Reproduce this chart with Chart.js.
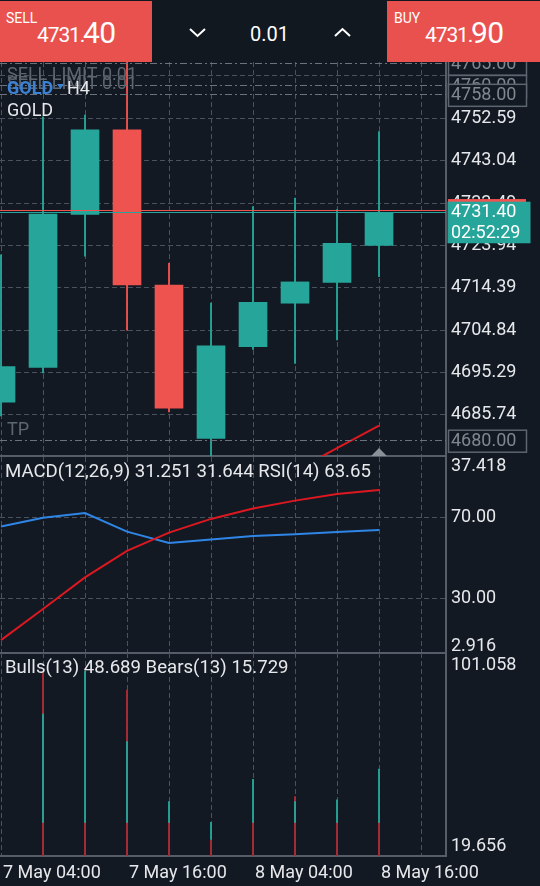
<!DOCTYPE html>
<html>
<head>
<meta charset="utf-8">
<script src="https://cdn.jsdelivr.net/npm/chart.js@4.4.1/dist/chart.umd.min.js"></script>
<style>
body{margin:0;background:#121922;width:540px;height:886px;overflow:hidden;position:relative;font-family:Roboto,sans-serif;color:#fff}
canvas{position:absolute;left:0}
#bar{position:absolute;left:0;top:0;width:540px;height:62px;background:#111820;z-index:5}
.box{position:absolute;top:1px;height:61px;background:#e9514e}
.t{position:absolute;line-height:1;white-space:nowrap;color:#fff}
</style>
</head>
<body>
<div id="bar">
  <div class="box" style="left:0;width:152px"></div>
  <div class="box" style="left:387px;width:153px"></div>
  <span class="t" style="left:6px;top:10.5px;font-size:14px">SELL</span>
  <span class="t" id="sellA" style="left:37px;top:25px;font-size:21px;letter-spacing:-1.1px"></span>
  <span class="t" id="sellB" style="left:83px;top:17.5px;font-size:30px;letter-spacing:-0.5px"></span>
  <span class="t" style="left:394px;top:10.5px;font-size:14px">BUY</span>
  <span class="t" id="buyA" style="left:425px;top:25px;font-size:21px;letter-spacing:-1.1px"></span>
  <span class="t" id="buyB" style="left:471px;top:17.5px;font-size:30px;letter-spacing:-0.5px"></span>
  <span class="t" id="lot" style="left:250px;top:24px;font-size:20px"></span>
  <svg style="position:absolute;left:0;top:0" width="540" height="62">
    <polyline points="190,29 197.5,36 205,29" fill="none" stroke="#fff" stroke-width="2"/>
    <polyline points="335,36 342.5,29 350,36" fill="none" stroke="#fff" stroke-width="2"/>
  </svg>
</div>
<canvas id="main" width="540" height="396" style="top:62px"></canvas>
<canvas id="osc" width="540" height="198" style="top:457px"></canvas>
<canvas id="bulls" width="540" height="233" style="top:653px"></canvas>
<script>
// 4h candles, GOLD
var times = ['7 May 04:00','7 May 08:00','7 May 12:00','7 May 16:00','7 May 20:00','8 May 00:00','8 May 04:00','8 May 08:00','8 May 12:00','8 May 16:00'];
var opens  = [4688.6, 4696.4, 4730.9, 4750.0, 4715.0, 4680.4, 4701.1, 4710.9, 4715.6, 4723.9];
var highs  = [4721.8, 4752.9, 4753.3, 4768.0, 4719.9, 4710.9, 4732.7, 4734.6, 4732.0, 4749.6];
var lows   = [4685.5, 4695.2, 4721.5, 4704.8, 4686.4, 4675.0, 4700.5, 4697.3, 4702.6, 4716.9];
var closes = [4696.6, 4731.0, 4750.0, 4715.0, 4687.2, 4701.3, 4711.1, 4715.7, 4724.4, 4731.4];
var maLine = [null, null, null, null, null, null, null, 4673.1, 4678.2, 4683.3];
var arrowMarks = [null, null, null, null, null, null, null, null, null, 4676.3];
var priceTicks = [4685.74, 4695.29, 4704.84, 4714.39, 4723.94, 4733.49, 4743.04, 4752.59, 4762.14];
var bid = 4731.40, ask = 4731.90, lot = 0.01, timer = '02:52:29';
var sellLimits = [4765.00, 4760.00, 4758.00];
var takeProfits = [4680.00];

var macdSignal = [5.19, 10.65, 16.23, 20.89, 24.11, 26.52, 28.35, 29.74, 30.89, 31.6];
var rsiValues = [65.4, 69.7, 72.0, 62.8, 57.2, 58.9, 60.6, 61.5, 62.6, 63.65];
var rsiLevels = [70, 30];
var macdRange = [2.916, 37.418];
var macdNow = 31.251, signalNow = 31.644;

var bullsTop = [null, 76.55, 93.74, 65.51, 41.45, 26.29, 50.36, 41.45, 42.17, 54.56];
var bullsBase = 33.17;
var bearsTop = [null, 92.86, 33.17, 86.15, 33.17, 26.29, 33.17, 43.48, 33.17, 33.17];
var bullsRange = [19.656, 101.058];
var bullsNow = 48.689, bearsNow = 15.729;

var TEAL = '#26a69a', RED = '#ef5350', BG = '#121922';
var GRID = '#4a525d', AXIS = '#555d69', TXT = '#e6e8eb';
var xMin = -0.024, xMax = 10.595;
var idx = times.map(function(t, i){ return i; });

function split(v){ var s = v.toFixed(2); return [s.slice(0, -2), s.slice(-2)]; }
document.getElementById('sellA').textContent = split(bid)[0];
document.getElementById('sellB').textContent = split(bid)[1];
document.getElementById('buyA').textContent = split(ask)[0];
document.getElementById('buyB').textContent = split(ask)[1];
document.getElementById('lot').textContent = lot.toFixed(2);

Chart.defaults.font.family = 'Roboto';
Chart.defaults.font.size = 18;
Chart.defaults.color = TXT;

function xAxis(h){
    return {
        type: 'linear', min: xMin, max: xMax, offset: false,
        afterBuildTicks: function(s){ s.ticks = idx.concat([10]).map(function(v){ return {value: v}; }); },
        ticks: {display: false},
        grid: {color: GRID, lineWidth: 1, drawTicks: false, offset: false},
        border: {display: true, color: AXIS, width: 2, dash: [5, 3]},
        afterFit: function(s){ s.height = h; s.paddingLeft = 0; s.paddingRight = 0; }
    };
}
function fitRight(s){ s.width = 94; s.paddingTop = 0; s.paddingBottom = 0; }
function baseOptions(){
    return {
        responsive: false, animation: false, devicePixelRatio: 1,
        layout: {padding: 0, autoPadding: false},
        plugins: {legend: {display: false}, tooltip: {enabled: false}}
    };
}
var candleColors = idx.map(function(i){ return closes[i] >= opens[i] ? TEAL : RED; });

// ---- main price panel
var mainDecor = {
    id: 'mainDecor',
    afterDatasetsDraw: function(chart){
        var ctx = chart.ctx, a = chart.chartArea, y = chart.scales.y;
        ctx.save();
        ctx.beginPath(); ctx.rect(a.left, a.top, a.right - a.left, a.bottom - a.top); ctx.clip();
        ctx.lineWidth = 1;
        ctx.strokeStyle = '#6b727c';
        ctx.setLineDash([7, 3, 2, 3]);
        sellLimits.concat(takeProfits).forEach(function(v){
            var py = Math.round(y.getPixelForValue(v)) + 0.5;
            ctx.beginPath(); ctx.moveTo(a.left, py); ctx.lineTo(a.right, py); ctx.stroke();
        });
        ctx.setLineDash([]);
        [[ask, RED], [bid, TEAL]].forEach(function(p){
            var py = Math.round(y.getPixelForValue(p[0])) + 0.5;
            ctx.strokeStyle = p[1];
            ctx.beginPath(); ctx.moveTo(a.left, py); ctx.lineTo(a.right, py); ctx.stroke();
        });
        ctx.restore();
    },
    afterDraw: function(chart){
        var ctx = chart.ctx, y = chart.scales.y;
        ctx.save();
        ctx.font = '18px Roboto';
        ctx.textBaseline = 'alphabetic';
        ctx.fillStyle = '#5e6670';
        sellLimits.forEach(function(v){ ctx.fillText('SELL LIMIT 0.01', 7, y.getPixelForValue(v) - 5.5); });
        takeProfits.forEach(function(v){ ctx.fillText('TP', 7, y.getPixelForValue(v) - 5.5); });
        // symbol
        ctx.font = 'bold 18px Roboto';
        ctx.fillStyle = '#3b82d6';
        ctx.fillText('GOLD', 7, 31.6);
        ctx.beginPath(); ctx.moveTo(57, 22); ctx.lineTo(64, 22); ctx.lineTo(60.5, 27); ctx.closePath(); ctx.fill();
        ctx.font = '18px Roboto';
        ctx.fillStyle = TXT;
        ctx.fillText('H4', 67, 31.6);
        ctx.fillText('GOLD', 7, 54.3);
        // order level boxes
        ctx.textBaseline = 'middle';
        sellLimits.concat(takeProfits).forEach(function(v){
            var py = y.getPixelForValue(v);
            ctx.fillStyle = BG;
            ctx.fillRect(448.5, py - 10, 78, 22);
            ctx.strokeStyle = '#5d6570'; ctx.lineWidth = 1.5;
            ctx.strokeRect(448.5, py - 10, 78, 22);
            ctx.fillStyle = '#80878f';
            ctx.fillText(v.toFixed(2), 451, py + 1.5);
        });
        // ask / bid labels
        var pa = y.getPixelForValue(ask), pb = y.getPixelForValue(bid);
        ctx.fillStyle = RED;
        ctx.fillRect(448, pa - 11, 78, 22);
        ctx.fillStyle = TXT;
        ctx.fillText(ask.toFixed(2), 451, pa + 1);
        ctx.fillStyle = TEAL;
        ctx.fillRect(447.5, pb - 10.6, 83, 41.6);
        ctx.fillStyle = '#ffffff';
        ctx.textBaseline = 'alphabetic';
        ctx.fillText(bid.toFixed(2), 451, pb + 4.5);
        ctx.fillText(timer, 451, pb + 26);
        ctx.restore();
    }
};

new Chart(document.getElementById('main'), {
    type: 'bar',
    data: {
        datasets: [
            {type: 'line', data: idx.map(function(i){ return {x: i, y: maLine[i]}; }),
             borderColor: '#dd1820', borderWidth: 2, pointRadius: 0, tension: 0, order: 0},
            {type: 'scatter', data: idx.map(function(i){ return {x: i, y: arrowMarks[i]}; }), clip: 0,
             pointStyle: 'rectRot', pointRadius: 8.5, backgroundColor: '#8a9199', borderWidth: 0, order: 0},
            {type: 'bar', grouped: false, barThickness: 28, order: 1,
             data: idx.map(function(i){ return {x: i, y: [opens[i], closes[i]]}; }),
             backgroundColor: candleColors, borderWidth: 0},
            {type: 'bar', grouped: false, barThickness: 1.2, order: 2,
             data: idx.map(function(i){ return {x: i, y: [lows[i], highs[i]]}; }),
             backgroundColor: candleColors, borderWidth: 0}
        ]
    },
    options: Object.assign(baseOptions(), {
        scales: {
            x: xAxis(2),
            y: {
                position: 'right', min: 4676.44, max: 4765.29,
                afterBuildTicks: function(s){ s.ticks = priceTicks.map(function(v){ return {value: v}; }); },
                ticks: {padding: 5, autoSkip: false, color: TXT, callback: function(v){ return Number(v).toFixed(2); }},
                grid: {color: GRID, drawTicks: false},
                border: {display: true, color: AXIS, width: 2, dash: [5, 3]},
                afterFit: fitRight
            }
        }
    }),
    plugins: [mainDecor]
});

// ---- panel captions and min/max labels
var panelText = {
    id: 'panelText',
    afterDraw: function(chart, args, o){
        var ctx = chart.ctx, a = chart.chartArea, s = chart.scales[o.axis];
        ctx.save();
        ctx.font = '18.6px Roboto';
        ctx.fillStyle = TXT;
        ctx.textBaseline = 'alphabetic';
        ctx.fillText(o.caption, 5, a.top + 20);
        ctx.font = '18px Roboto';
        ctx.textBaseline = 'middle';
        ctx.fillText(s.max.toFixed(3), a.right + 5, a.top + o.top);
        ctx.fillText(s.min.toFixed(3), a.right + 5, a.bottom - o.bottom);
        ctx.restore();
    }
};

// ---- MACD + RSI panel
new Chart(document.getElementById('osc'), {
    type: 'line',
    data: {
        datasets: [
            {data: idx.map(function(i){ return {x: i, y: macdSignal[i]}; }), yAxisID: 'yMacd',
             borderColor: '#dd1820', borderWidth: 2, pointRadius: 0, tension: 0},
            {data: idx.map(function(i){ return {x: i, y: rsiValues[i]}; }), yAxisID: 'yRsi',
             borderColor: '#2f86e6', borderWidth: 2, pointRadius: 0, tension: 0}
        ]
    },
    options: Object.assign(baseOptions(), {
        scales: {
            x: xAxis(2),
            yMacd: {display: false, min: macdRange[0], max: macdRange[1]},
            yRsi: {
                position: 'right', min: 2.81, max: 99.72,
                afterBuildTicks: function(s){ s.ticks = rsiLevels.map(function(v){ return {value: v}; }); },
                ticks: {padding: 5, color: TXT, callback: function(v){ return Number(v).toFixed(2); }},
                grid: {color: GRID, drawTicks: false},
                border: {display: true, color: AXIS, width: 2, dash: [5, 3]},
                afterFit: fitRight
            }
        },
        plugins: {
            legend: {display: false}, tooltip: {enabled: false},
            panelText: {axis: 'yMacd', top: 9.5, bottom: 6.5,
                caption: 'MACD(12,26,9) ' + macdNow.toFixed(3) + ' ' + signalNow.toFixed(3) + ' RSI(14) ' + rsiValues[rsiValues.length - 1].toFixed(2)}
        }
    }),
    plugins: [panelText]
});

// ---- Bulls / Bears panel
var bx = xAxis(30);
bx.z = 1;
bx.ticks = {display: true, autoSkip: false, maxRotation: 0, align: 'start', labelOffset: 2, padding: 7, color: TXT,
    callback: function(v){ return v % 3 === 0 && times[v] ? times[v] : ''; }};
new Chart(document.getElementById('bulls'), {
    type: 'bar',
    data: {
        datasets: [
            {label: 'Bulls', grouped: false, barThickness: 1.2, order: 0, backgroundColor: TEAL, borderWidth: 0,
             data: idx.map(function(i){ return {x: i, y: bullsTop[i] == null ? null : [bullsBase, bullsTop[i]]}; })},
            {label: 'Bears', grouped: false, barThickness: 1.2, order: 1, backgroundColor: '#b02b36', borderWidth: 0,
             data: idx.map(function(i){ return {x: i, y: bearsTop[i]}; })}
        ]
    },
    options: Object.assign(baseOptions(), {
        scales: {
            x: bx,
            y: {
                position: 'right', min: bullsRange[0], max: bullsRange[1],
                ticks: {display: false},
                grid: {display: false, drawTicks: false},
                border: {display: true, color: AXIS, width: 2},
                afterFit: fitRight
            }
        },
        plugins: {
            legend: {display: false}, tooltip: {enabled: false},
            panelText: {axis: 'y', top: 12, bottom: 10,
                caption: 'Bulls(13) ' + bullsNow.toFixed(3) + ' Bears(13) ' + bearsNow.toFixed(3)}
        }
    }),
    plugins: [panelText]
});
</script>
</body>
</html>
